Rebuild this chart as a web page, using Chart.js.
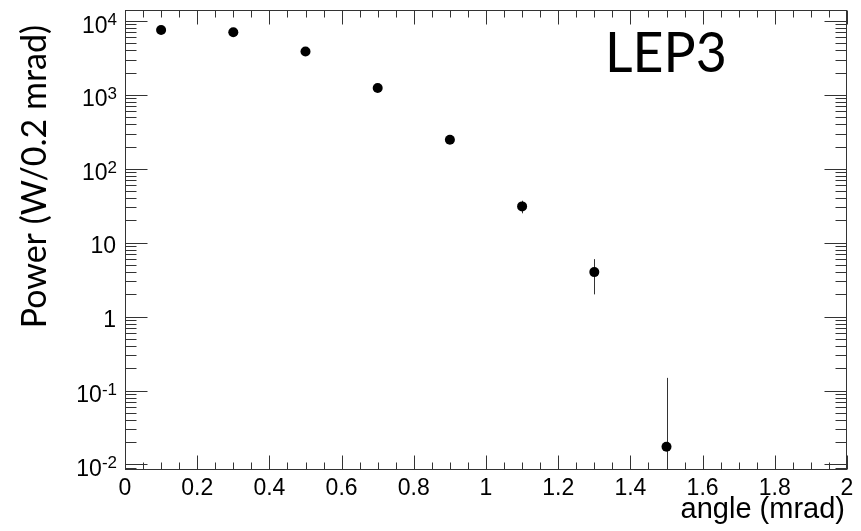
<!DOCTYPE html>
<html>
<head>
<meta charset="utf-8">
<script src="https://cdn.jsdelivr.net/npm/chart.js@4.4.1/dist/chart.umd.min.js"></script>
<style>
  html, body { margin: 0; padding: 0; background: #fff; }
</style>
</head>
<body>
<canvas id="powerChart" width="861" height="531"></canvas>
<script>
// angle bins (mrad) and radiated power per 0.2 mrad bin
const angles = [0.1, 0.3, 0.5, 0.7, 0.9, 1.1, 1.3, 1.5];
const power = [7550, 7050, 3870, 1240, 247, 31, 4.0, 0.0173];
const powerErr = [87, 84, 62, 35, 16, 6, 2.0, 0.131];

const xTicks = [0, 0.2, 0.4, 0.6, 0.8, 1, 1.2, 1.4, 1.6, 1.8, 2];
const yTickExps = [-2, -1, 0, 1, 2, 3, 4];

const yMin = 0.0084;
const yMax = 14100;

const axisColor = '#333';
const tickFont = '23px "Liberation Sans", Arial, sans-serif';
const supFont = '17px "Liberation Sans", Arial, sans-serif';

// vertical error bars, drawn under the markers
const errorBars = {
    id: 'errorBars',
    beforeDatasetsDraw(chart) {
        const { ctx, chartArea, scales: { x, y } } = chart;
        ctx.save();
        ctx.beginPath();
        ctx.rect(chartArea.left, chartArea.top, chartArea.right - chartArea.left, chartArea.bottom - chartArea.top);
        ctx.clip();
        ctx.strokeStyle = axisColor;
        ctx.lineWidth = 1;
        angles.forEach((a, i) => {
            const px = Math.round(x.getPixelForValue(a)) + 0.5;
            const hi = power[i] + powerErr[i];
            const lo = power[i] - powerErr[i];
            const yTop = y.getPixelForValue(hi);
            const yBot = lo > 0 ? y.getPixelForValue(lo) : chartArea.bottom;
            ctx.beginPath();
            ctx.moveTo(px, yTop);
            ctx.lineTo(px, yBot);
            ctx.stroke();
        });
        ctx.restore();
    }
};

// frame, inward ticks on all four sides, tick labels and titles
const frameAxes = {
    id: 'frameAxes',
    afterDraw(chart) {
        const { ctx, chartArea: ca, scales: { x, y } } = chart;
        const L = Math.round(ca.left) + 0.5, R = Math.round(ca.right) - 0.5;
        const T = Math.round(ca.top) + 0.5, B = Math.round(ca.bottom) - 0.5;
        ctx.save();
        ctx.strokeStyle = axisColor;
        ctx.lineWidth = 1;
        ctx.strokeRect(L, T, R - L, B - T);

        ctx.beginPath();
        // x ticks: major every 0.2, minor every 0.05
        for (let i = 0; i <= 40; i++) {
            const px = Math.round(x.getPixelForValue(i * 0.05)) + 0.5;
            const len = i % 4 === 0 ? 14 : 7;
            ctx.moveTo(px, B); ctx.lineTo(px, B - len);
            ctx.moveTo(px, T); ctx.lineTo(px, T + len);
        }
        // y ticks: decades long, 2..9 short
        for (let e = -3; e <= 4; e++) {
            for (let m = 1; m <= 9; m++) {
                const v = m * Math.pow(10, e);
                if (v < yMin || v > yMax) continue;
                const py = Math.round(y.getPixelForValue(v)) + 0.5;
                const len = m === 1 ? 22 : 11;
                ctx.moveTo(L, py); ctx.lineTo(L + len, py);
                ctx.moveTo(R, py); ctx.lineTo(R - len, py);
            }
        }
        ctx.stroke();

        ctx.fillStyle = '#000';
        // x tick labels
        ctx.font = tickFont;
        ctx.textAlign = 'center';
        ctx.textBaseline = 'alphabetic';
        xTicks.forEach(v => {
            ctx.fillText(String(v), x.getPixelForValue(v), 495);
        });

        // y tick labels, powers of ten with raised exponent
        ctx.textAlign = 'right';
        yTickExps.forEach(e => {
            const py = y.getPixelForValue(Math.pow(10, e));
            if (e === 0 || e === 1) {
                ctx.font = tickFont;
                ctx.fillText(e === 0 ? '1' : '10', 116, py + 10);
                return;
            }
            const exp = String(e);
            ctx.font = supFont;
            const w = ctx.measureText(exp).width;
            ctx.fillText(exp, 117, py + 4);
            ctx.font = tickFont;
            ctx.fillText('10', 117 - w, py + 11.5);
        });

        // axis titles
        ctx.font = '29px "Liberation Sans", Arial, sans-serif';
        ctx.textAlign = 'right';
        ctx.fillText('angle (mrad)', 845, 518);

        ctx.save();
        ctx.translate(46, 25);
        ctx.rotate(-Math.PI / 2);
        ctx.font = '34px Lato, "Open Sans", sans-serif';
        ctx.textAlign = 'right';
        ctx.fillText('Power (W/0.2 mrad)', 0, 0);
        ctx.restore();

        // machine label
        ctx.save();
        ctx.translate(605, 72);
        ctx.scale(0.94, 1);
        ctx.font = '57px Lato, "Open Sans", sans-serif';
        ctx.textAlign = 'left';
        ctx.fillText('LEP3', 0, 0);
        ctx.restore();
        ctx.restore();
    }
};

new Chart(document.getElementById('powerChart'), {
    type: 'scatter',
    data: {
        datasets: [{
            label: 'Power',
            data: angles.map((a, i) => ({ x: a, y: power[i] })),
            backgroundColor: '#000',
            borderColor: '#000',
            borderWidth: 0,
            pointRadius: 5,
            pointHoverRadius: 5,
            showLine: false
        }]
    },
    options: {
        responsive: false,
        animation: false,
        layout: {
            padding: { left: 125, right: 14, top: 10, bottom: 61 }
        },
        scales: {
            x: { type: 'linear', min: 0, max: 2, display: false },
            y: { type: 'logarithmic', min: yMin, max: yMax, display: false }
        },
        plugins: {
            legend: { display: false },
            tooltip: { enabled: false }
        }
    },
    plugins: [errorBars, frameAxes]
});
</script>
</body>
</html>
